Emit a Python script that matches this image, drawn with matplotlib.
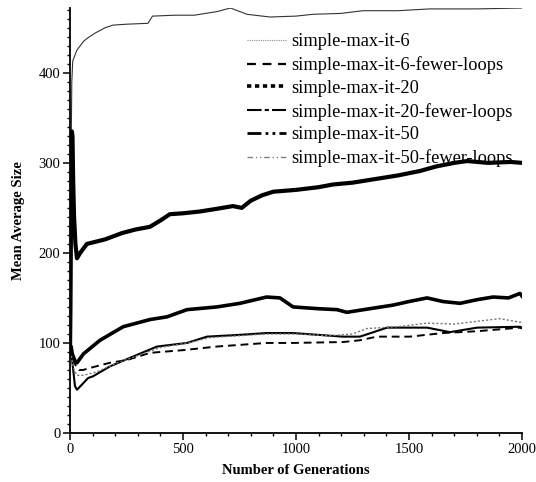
import matplotlib
matplotlib.use("Agg")
import matplotlib.pyplot as plt
from matplotlib.lines import Line2D
from matplotlib.ticker import MultipleLocator

plt.rcParams['font.family'] = ['Liberation Serif', 'DejaVu Serif']

# mean average program size per generation, one run set per method
gen_it6 = [0, 2, 4, 6, 8, 12, 30, 60, 80, 110, 155, 190, 250, 345, 365, 465, 550,
           650, 710, 783, 885, 1000, 1075, 1200, 1296, 1450, 1593, 1800, 2000]
size_it6 = [90, 150, 250, 340, 390, 413, 425, 435, 439, 444, 450, 453, 454, 455, 463, 464, 464,
            468, 472, 465, 462, 463, 465, 466, 469, 469, 471, 471, 472]

gen_it6_fl = [0, 5, 12, 25, 40, 58, 100, 177, 252, 354, 500, 650, 870, 987, 1208,
              1283, 1358, 1504, 1650, 1800, 1991, 2000]
size_it6_fl = [88, 92, 84, 75, 70, 70, 73, 78, 81, 89, 92, 96, 100, 100, 101,
               103, 107, 107, 111, 113, 117, 116]

gen_it20 = [0, 2, 4, 6, 8, 11, 14, 18, 24, 31, 45, 75, 155, 230, 290, 354, 400, 442,
            500, 575, 650, 721, 760, 800, 850, 900, 1000, 1100, 1164, 1250, 1350,
            1450, 1549, 1620, 1700, 1757, 1850, 1950, 2000]
size_it20 = [90, 140, 220, 300, 335, 330, 280, 240, 210, 194, 200, 210, 215, 222, 226, 229,
             236, 243, 244, 246, 249, 252, 250, 258, 264, 268, 270, 273, 276, 278, 282,
             286, 291, 296, 300, 302, 300, 301, 300]

gen_it20_fl = [0, 6, 12, 22, 31, 50, 80, 102, 177, 280, 385, 518, 606, 752, 870, 987,
               1208, 1283, 1403, 1580, 1681, 1801, 1991, 2000]
size_it20_fl = [85, 90, 75, 52, 48, 53, 61, 63, 74, 85, 96, 100, 107, 109, 111, 111,
                107, 107, 117, 117, 112, 117, 118, 117]

gen_it50 = [0, 5, 10, 25, 31, 60, 133, 235, 354, 429, 518, 650, 752, 870, 929, 987,
            1100, 1181, 1225, 1300, 1429, 1500, 1580, 1650, 1726, 1800, 1872, 1940,
            1991, 2000]
size_it50 = [92, 96, 88, 78, 78, 88, 103, 118, 126, 129, 137, 140, 144, 151, 150, 140,
             138, 137, 134, 137, 142, 146, 150, 146, 144, 148, 151, 150, 155, 152]

gen_it50_fl = [0, 6, 15, 30, 60, 120, 200, 300, 400, 520, 620, 750, 870, 1000, 1150,
               1250, 1314, 1450, 1580, 1700, 1800, 1903, 1991, 2000]
size_it50_fl = [82, 86, 72, 64, 64, 68, 77, 86, 95, 100, 106, 108, 110, 110, 108,
                110, 116, 118, 122, 121, 124, 127, 123, 124]

labels = ['simple-max-it-6', 'simple-max-it-6-fewer-loops', 'simple-max-it-20',
          'simple-max-it-20-fewer-loops', 'simple-max-it-50',
          'simple-max-it-50-fewer-loops']

fig = plt.figure(figsize=(5.36, 4.82), dpi=100)
ax = fig.add_axes([0.1306, 0.1017, 0.8433, 0.8817])

ax.plot(gen_it6, size_it6, color='0.2', lw=0.8)
ax.plot(gen_it6_fl, size_it6_fl, color='black', lw=1.4, dashes=(4, 2.5))
ax.plot(gen_it20, size_it20, color='black', lw=3.0)
ax.plot(gen_it20_fl, size_it20_fl, color='black', lw=1.5)
ax.plot(gen_it50, size_it50, color='black', lw=2.6)
ax.plot(gen_it50_fl, size_it50_fl, color='0.45', lw=1.0, dashes=(1.5, 1.5))

handles = [
    Line2D([], [], color='0.55', lw=0.8, dashes=(1, 1)),
    Line2D([], [], color='black', lw=1.6, dashes=(4, 3)),
    Line2D([], [], color='black', lw=2.6, dashes=(1.2, 1.0)),
    Line2D([], [], color='black', lw=1.5, dashes=(7, 1.5, 2, 1.5)),
    Line2D([], [], color='black', lw=2.0, dashes=(5, 1.5, 1, 1.5, 1, 1.5)),
    Line2D([], [], color='0.5', lw=1.0, dashes=(4, 2, 1, 2, 1, 2)),
]
fig.legend(handles, labels, loc='upper left', bbox_to_anchor=(0.461, 0.931),
           frameon=False, fontsize=13.2, borderpad=0, borderaxespad=0,
           handlelength=2.1, handletextpad=0.3, labelspacing=0.32)

ax.set_xlim(0, 2000)
ax.set_ylim(0, 472)
ax.xaxis.set_major_locator(MultipleLocator(500))
ax.xaxis.set_minor_locator(MultipleLocator(100))
ax.yaxis.set_major_locator(MultipleLocator(100))
ax.yaxis.set_minor_locator(MultipleLocator(10))
ax.tick_params(which='major', direction='out', length=5, width=1.1, labelsize=10.5, pad=2)
ax.tick_params(which='minor', direction='out', length=2.5, width=1.0)

for side in ('top', 'right'):
    ax.spines[side].set_visible(False)
for side in ('left', 'bottom'):
    ax.spines[side].set_linewidth(1.3)

ax.set_xlabel('Number of Generations', fontsize=10.5, fontweight='bold', labelpad=6)
ax.set_ylabel('Mean Average Size', fontsize=10.5, fontweight='bold', labelpad=10)

fig.savefig('out.png', dpi=100)
